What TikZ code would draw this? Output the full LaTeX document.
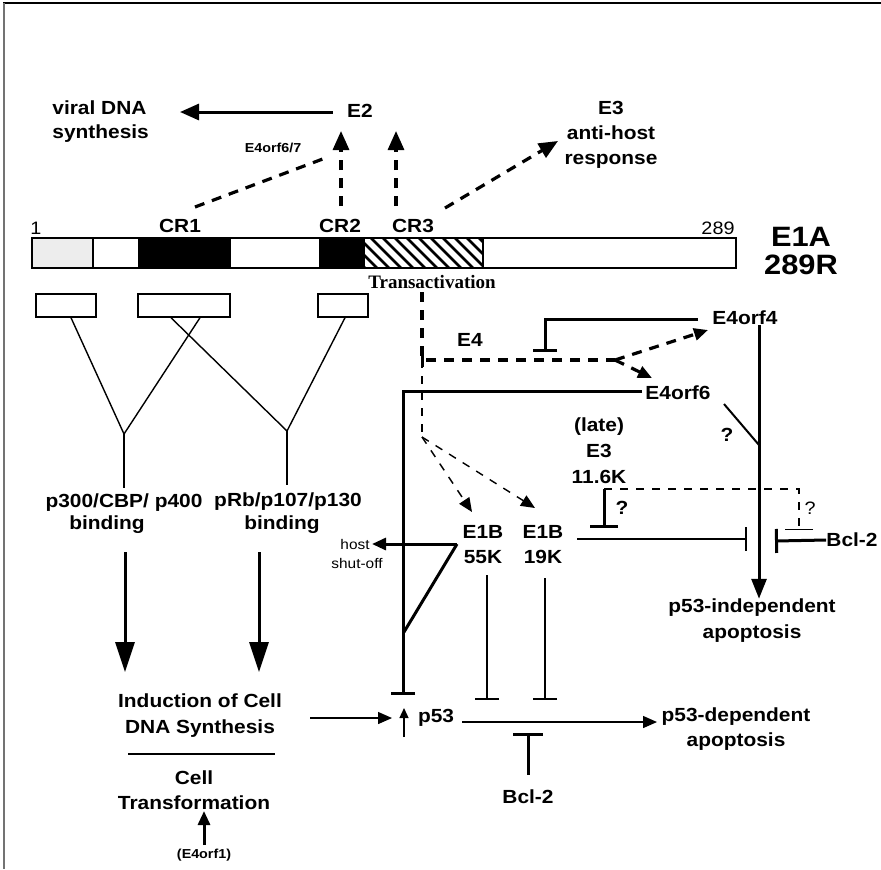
\documentclass[tikz,border=0pt]{standalone}
\usepackage{fontspec}
\setmainfont{Liberation Sans}[FakeStretch=1.1]
\newfontfamily\trfont{Liberation Serif}
\usetikzlibrary{arrows.meta}

\begin{document}
\begin{tikzpicture}[x=0.5pt, y=-0.5pt,
    lbl/.style={font=\bfseries\fontsize{9.5}{12}\selectfont, inner sep=0pt, align=center},
    tiny/.style={font=\bfseries\fontsize{6.5}{8}\selectfont, inner sep=0pt},
    plain/.style={font=\fontsize{7}{8.5}\selectfont, inner sep=0pt, align=center},
    big/.style={font=\bfseries\fontsize{14}{14}\selectfont, inner sep=0pt, align=center},
    site/.style={draw, line width=0.7pt, minimum height=11.5pt, inner sep=0pt},
    thk/.style={line width=1.5pt},
    med/.style={line width=1pt},
    lne/.style={line width=0.7pt},
    tip/.style={-{Triangle[length=7pt, width=6pt]}},
    toptip/.style={-{Triangle[length=9.5pt, width=8pt]}},
    bigtip/.style={-{Triangle[length=15pt, width=9.5pt]}},
    smtip/.style={-{Triangle[length=5pt, width=4.5pt]}},
    inh/.style={-{Bar[width=12pt]}},
    dsh/.style={line width=1.6pt, dash pattern=on 5pt off 4pt},
    tdsh/.style={line width=0.7pt, dash pattern=on 4pt off 4pt}
]
    \useasboundingbox (0,0) rectangle (881,869);
    % frame
    \draw[line width=1pt] (3,3) -- (881,3);
    \draw[line width=1pt, black!55] (4,3) -- (4,869);

    % E2 / E3 targets
    \node[lbl, align=left, anchor=west] (viral) at (52,122) {viral DNA\\synthesis};
    \node[lbl] (e2) at (360,111) {E2};
    \node[tiny] (e467) at (273,148) {E4orf6/7};
    \node[lbl, font=\bfseries\fontsize{9.5}{12.5}\selectfont] (e3) at (611,135) {E3\\anti-host\\response};
    \coordinate (up1) at (341,131);
    \coordinate (up2) at (396,131);
    \draw[thk, toptip] (e2.west) ++(-7pt,1) -- (180,112);
    \draw[dsh, toptip] (341,206) -- (up1);
    \draw[dsh, toptip] (396,206) -- (up2);
    \draw[dsh] (195,207) -- (328,157);
    \draw[dsh, toptip] (445,208) -- (558,141);

    % E1A 289R
    \fill[black!7] (32,238) rectangle (93,268);
    \fill (138,238) rectangle (231,268);
    \fill (319,238) rectangle (365,268);
    \begin{scope}
        \clip (365,238) rectangle (483,268);
        \foreach \i in {335,347,...,490}
            \draw[line width=1.3pt] (\i,238) -- ++(30,30);
    \end{scope}
    \draw[lne] (32,238) rectangle (736,268);
    \draw[lne] (93,238) -- (93,268) (483,238) -- (483,268);
    \node[plain, font=\fontsize{9}{9}\selectfont] (n1) at (36,228) {1};
    \node[lbl] (cr1) at (180,226) {CR1};
    \node[lbl] (cr2) at (340,226) {CR2};
    \node[lbl] (cr3) at (413,226) {CR3};
    \node[plain, font=\fontsize{9}{9}\selectfont] (n289) at (718,228) {289};
    \node[big] (e1a) at (801,251) {E1A\\289R};
    \node[font=\trfont\bfseries\fontsize{9.5}{10}\selectfont, inner sep=0pt] (trans) at (432,282) {Transactivation};

    % binding sites
    \node[site, minimum width=30pt] (bx1) at (66,305.5) {};
    \node[site, minimum width=46pt] (bx2) at (184,305.5) {};
    \node[site, minimum width=25pt] (bx3) at (343,305.5) {};
    \coordinate (j1) at (124,434);
    \coordinate (j2) at (287,431);
    \node[lbl] (p300) at (124,503) {p300/CBP/ p400};
    \node[lbl] (bind1) at (107,525) {binding};
    \node[lbl] (prb) at (288,502) {pRb/p107/p130};
    \node[lbl] (bind2) at (282,525) {binding};
    \draw[lne] ([xshift=2.5pt]bx1.south) -- (j1) -- ([xshift=8pt]bx2.south);
    \draw[lne] ([xshift=-6.5pt]bx2.south) -- (j2) -- ([xshift=1pt]bx3.south);
    \draw[lne] (j1) -- (124,488);
    \draw[lne] (j2) -- (287,485);

    % cell DNA synthesis
    \node[lbl, font=\bfseries\fontsize{9.5}{13}\selectfont] (ind) at (200,716) {Induction of Cell\\DNA Synthesis};
    \node[lbl, font=\bfseries\fontsize{9.5}{12.5}\selectfont] (trf) at (194,790) {Cell\\Transformation};
    \node[tiny] (e4orf1) at (204,855) {(E4orf1)};
    \draw[thk, bigtip] (125,552) -- (125,672);
    \draw[thk, bigtip] (259,552) -- (259,672);
    \draw[lne] (128,754) -- (275,754);
    \draw[thk, tip] (204,845) -- (204,811);

    % p53
    \node[lbl] (p53) at (436,718) {p53};
    \draw[lne, tip] (310,718) -- (392,718);
    \draw[lne, smtip] (404,737) -- (404,708);
    \node[lbl, font=\bfseries\fontsize{9.5}{12.5}\selectfont] (dep) at (736,729) {p53-dependent\\apoptosis};
    \draw[lne, tip] (462,722) -- (657,722);

    % E4
    \node[lbl] (e4) at (470,340) {E4};
    \node[lbl] (e4orf4) at (745,318) {E4orf4};
    \node[lbl] (e4orf6) at (678,393) {E4orf6};
    \draw[dsh] (422,292) -- (422,360) -- (615,360);
    \draw[thk] (422,353) -- (422,367);
    \draw[tdsh] (422,360) -- (422,437);
    \draw[dsh, tip] (615,360) -- (708,330);
    \draw[dsh, tip] (615,360) -- (652,378);
    \draw[thk, inh] (698,319) -- (545,319) -- (545,352);
    \draw[thk, inh] (642,391) -- (403,391) -- (403,695);
    \draw[med] (724,404) -- (759,445);
    \node[lbl] (q1) at (727,435) {?};

    % E1B
    \node[lbl, font=\bfseries\fontsize{9.5}{12.5}\selectfont] (e1b55) at (483,545) {E1B\\55K};
    \node[lbl, font=\bfseries\fontsize{9.5}{12.5}\selectfont] (e1b19) at (543,545) {E1B\\19K};
    \draw[tdsh, tip] (422,437) -- (472,512);
    \draw[tdsh, tip] (422,437) -- (535,508);
    \node[plain] (host) at (355,544) {host};
    \node[plain] (shut) at (357,563) {shut-off};
    \draw[thk, tip] (457,544) -- (372,544);
    \draw[thk] (457,544) -- (404,632);
    \draw[med, inh] (487,575) -- (487,700);
    \draw[med, inh] (545,578) -- (545,700);
    \node[lbl] (bcl2b) at (528,797) {Bcl-2};
    \draw[thk, {Bar[width=15pt]}-] (528,733) -- (528,775);

    % E3 11.6K
    \node[lbl, font=\bfseries\fontsize{9.5}{13}\selectfont] (e3late) at (599,451) {(late)\\E3\\11.6K};
    \draw[thk, {-Bar[width=14pt]}] (604,489) -- (604,528);
    \node[lbl] (q2) at (622,508) {?};
    \draw[tdsh, {-Bar[width=14pt]}] (604,489) -- (799,489) -- (799,530);
    \node[plain, font=\fontsize{9}{9}\selectfont] (q3) at (810,508) {?};
    \draw[med, inh] (577,539) -- (747,539);
    \node[lbl] (bcl2r) at (852,540) {Bcl-2};
    \draw[thk, inh] (bcl2r.west) -- (775,541);

    % p53-independent
    \node[lbl, font=\bfseries\fontsize{9.5}{13}\selectfont] (indep) at (752,621) {p53-independent\\apoptosis};
    \draw[thk, -{Triangle[length=10pt, width=7.5pt]}] (e4orf4.south -| 759,0) -- (indep.north -| 759,0);
\end{tikzpicture}
\end{document}
